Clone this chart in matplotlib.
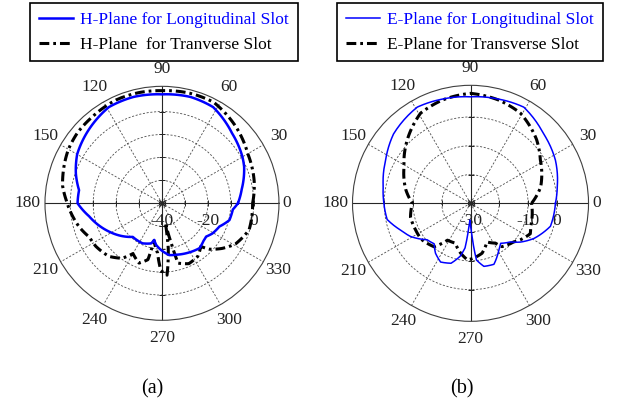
import numpy as np
import matplotlib
matplotlib.use('Agg')
from matplotlib import pyplot as plt
from matplotlib import transforms

plt.rcParams['font.family'] = ['Liberation Serif', 'DejaVu Serif']

# (a) H-plane, angles in degrees, gain in dB
h_long_ang = [0, 10, 24, 30, 45, 62, 75, 90, 105, 119, 137, 150, 161, 171, 180, 190, 208,
              229, 244, 255, 258, 262, 269, 278, 286, 296, 310, 318, 323, 329, 338, 346,
              355, 360]
h_long_db = [-6.9, -4.7, -0.8, 0.5, 3.2, 7.5, 8.0, 7.5, 8.0, 7.9, 4.9, 2.7, -0.3, -3.4,
             -3.2, -7.7, -13.8, -20.6, -20.6, -21.9, -23.7, -21.7, -19.6, -17.2, -16.7,
             -15.8, -14.5, -15.6, -15.9, -14.4, -13.0, -9.7, -9.0, -6.9]

h_tran_ang = [0, 14, 30, 46, 63, 76, 90, 102, 114, 129, 140, 150, 170, 178, 196, 205, 213,
              225, 234, 240, 249, 256, 258, 262, 265, 269, 274, 278, 280, 283, 285, 294,
              304, 312, 316, 323, 331, 343, 360]
h_tran_db = [-0.5, 1.4, 3.2, 6.4, 9.5, 9.5, 9.1, 9.3, 9.3, 8.4, 8.0, 7.1, 4.0, 1.8, -2.5,
             -5.1, -5.6, -7.3, -10.4, -14.7, -12.1, -14.7, -23.4, -20.4, -18.2, -10.8,
             -8.6, -20.4, -31.3, -22.6, -13.0, -11.2, -12.1, -14.7, -11.2, -7.3, -3.4,
             -0.3, -0.5]

# (b) E-plane
e_long_ang = [0, 11, 27, 44, 61, 75, 90, 105, 119, 138, 153, 169, 180, 191, 201, 209, 220,
              228, 235, 243, 252, 259, 263, 266, 268, 271, 273, 276, 282, 291, 300, 307,
              316, 322, 331, 344, 360]
e_long_db = [-0.5, 0.7, 3.1, 5.1, 8.2, 7.5, 7.0, 7.5, 8.2, 6.0, 3.1, 0.9, 0.1, -0.5, -4.0,
             -6.2, -10.3, -11.1, -8.8, -7.1, -8.1, -11.3, -14.4, -22.0, -24.2, -21.3,
             -17.8, -10.2, -7.6, -7.3, -10.6, -12.6, -10.7, -8.1, -4.8, -1.1, -0.5]

e_tran_ang = [0, 13, 32, 44, 61, 75, 90, 105, 119, 135, 151, 168, 180, 193, 206, 216, 230,
              238, 249, 259, 267, 273, 283, 293, 302, 306, 318, 324, 333, 339, 360]
e_tran_db = [-8.8, -5.0, -1.4, 1.9, 5.8, 7.2, 8.2, 7.2, 5.8, 1.1, -3.6, -7.0, -9.8, -8.6,
             -8.8, -8.8, -10.3, -14.9, -15.2, -12.3, -10.3, -10.9, -12.2, -15.4, -13.7,
             -11.4, -9.9, -8.5, -6.7, -7.6, -8.8]

angle_ticks = list(range(0, 360, 30))

dashdot = (0, (3.2, 1.3, 0.9, 1.3))
fsize = 12.5


def polar_frame(ax, rmin, rmax, rings, rlabels):
    ax.set_ylim(rmin, rmax)
    ax.set_rticks(rings)
    ax.set_yticklabels([])
    # the "0" label sits closer to the circle in the original, so it is placed by hand
    ax.set_thetagrids(angle_ticks, [''] + [str(a) for a in angle_ticks[1:]],
                      fontsize=fsize, color='#222222')
    ax.tick_params(axis='x', pad=2)
    ax.grid(True, color='0.3', linestyle=(0, (2.5, 2)), linewidth=0.6)
    ax.spines['polar'].set_color('0.25')
    ax.spines['polar'].set_linewidth(0.8)
    # solid cross through the centre
    for t in [0, 90, 180, 270]:
        ax.plot(np.deg2rad([t, t]), [rmin, rmax], color='0.15', lw=0.8, zorder=2)
        ax.plot(np.deg2rad([t] * len(rings)), rings, ls='none',
                marker='|' if t in (0, 180) else '_', ms=4, mew=0.7, color='0.15', zorder=2)
    ax.plot([0], [rmin], marker=(8, 2, 0), ms=6, mew=0.8, color='0.15', zorder=2)
    off0 = transforms.offset_copy(ax.transData, fig=ax.figure, x=8, y=0, units='dots')
    ax.text(0, rmax, '0', transform=off0, ha='center', va='center',
            fontsize=fsize, color='#222222', clip_on=False)
    off = transforms.offset_copy(ax.transData, fig=ax.figure, x=0, y=-18, units='dots')
    for v in rlabels:
        ax.text(0, v, str(v), transform=off, ha='center', va='center',
                fontsize=fsize, color='#222222')


fig = plt.figure(figsize=(6.18, 4.03), dpi=100)

ax1 = fig.add_axes([0.0728, 0.2052, 0.3786, 0.5806], projection='polar')
polar_frame(ax1, -40, 11, [-30, -20, -10, 0], [-40, -20, 0])
l1, = ax1.plot(np.deg2rad(h_long_ang), h_long_db, color='#0000ff', lw=1.8, zorder=4)
l2, = ax1.plot(np.deg2rad(h_tran_ang), h_tran_db, color='black', lw=2.2,
               linestyle=dashdot, zorder=3)

ax2 = fig.add_axes([0.5704, 0.2027, 0.3819, 0.5856], projection='polar')
polar_frame(ax2, -30, 11, [-20, -10, 0], [-30, -10, 0])
l3, = ax2.plot(np.deg2rad(e_long_ang), e_long_db, color='#0000ff', lw=1.1, zorder=4)
l4, = ax2.plot(np.deg2rad(e_tran_ang), e_tran_db, color='black', lw=2.2,
               linestyle=dashdot, zorder=3)

# let the polar transform follow the curve between samples instead of straight chords
for ln in (l1, l2, l3, l4):
    ln.get_path()._interpolation_steps = 12

leg_kw = dict(loc='upper left', fontsize=fsize, handlelength=2.0, handletextpad=0.4,
              labelspacing=0.5, borderpad=0.5, borderaxespad=0, fancybox=False,
              edgecolor='black', framealpha=1)
leg1 = fig.legend([l1, l2], ['H-Plane for Longitudinal Slot', 'H-Plane  for Tranverse Slot'],
                  bbox_to_anchor=(30 / 618, 1 - 3 / 403), **leg_kw)
leg1.get_frame().set_linewidth(1.2)
leg1.get_texts()[0].set_color('#0000ff')

leg2 = fig.legend([l3, l4], ['E-Plane for Longitudinal Slot', 'E-Plane for Transverse Slot'],
                  bbox_to_anchor=(337 / 618, 1 - 3 / 403), **leg_kw)
leg2.get_frame().set_linewidth(1.2)
leg2.get_texts()[0].set_color('#0000ff')

fig.text(152 / 618, 1 - 389 / 403, '(a)', ha='center', va='center', fontsize=14.5)
fig.text(462 / 618, 1 - 389 / 403, '(b)', ha='center', va='center', fontsize=14.5)

fig.savefig('out.png', dpi=100)
